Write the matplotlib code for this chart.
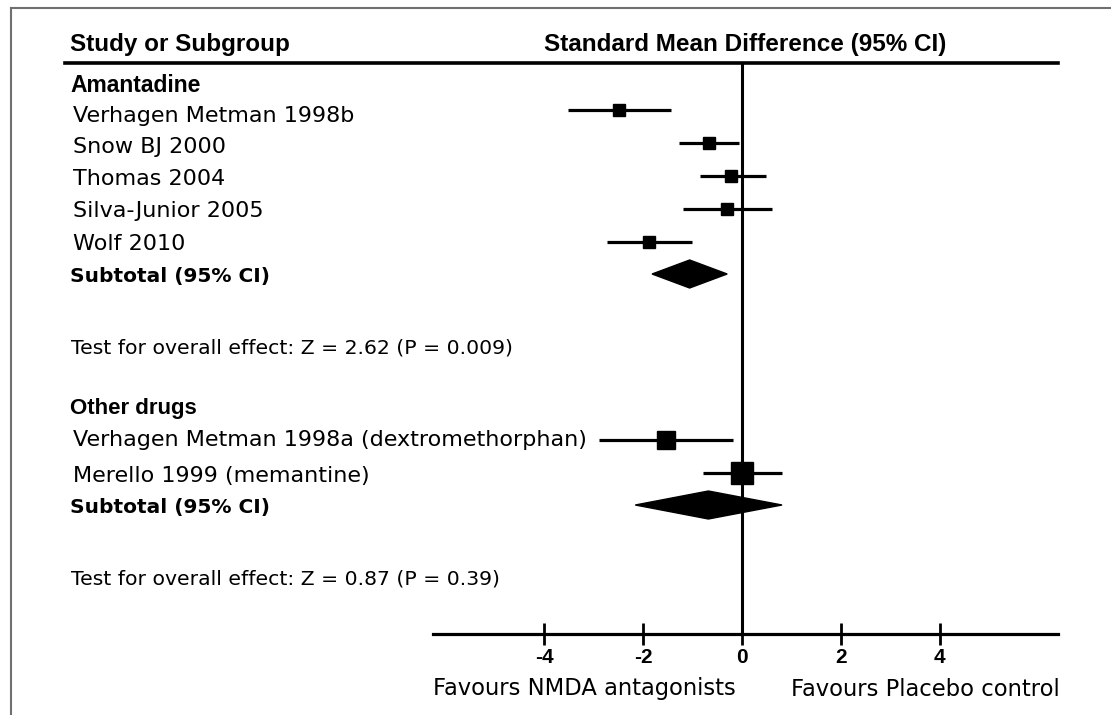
import matplotlib
matplotlib.use("Agg")
import matplotlib.pyplot as plt
from matplotlib.lines import Line2D
from matplotlib.patches import Polygon
from matplotlib.transforms import blended_transform_factory

# study level data (standard mean difference, 95% CI)
amantadine_studies = ["Verhagen Metman 1998b", "Snow BJ 2000", "Thomas 2004",
                      "Silva-Junior 2005", "Wolf 2010"]
amantadine_smd = [-2.48, -0.67, -0.22, -0.30, -1.88]
amantadine_lo = [-3.52, -1.27, -0.86, -1.19, -2.73]
amantadine_hi = [-1.44, -0.07, 0.48, 0.61, -1.02]
amantadine_total = [-1.06, -1.82, -0.30]   # est, lo, hi
amantadine_test = "Test for overall effect: Z = 2.62 (P = 0.009)"

other_studies = ["Verhagen Metman 1998a (dextromethorphan)", "Merello 1999 (memantine)"]
other_smd = [-1.54, 0.0]
other_lo = [-2.90, -0.78]
other_hi = [-0.19, 0.81]
other_total = [-0.68, -2.16, 0.81]
other_test = "Test for overall effect: Z = 0.87 (P = 0.39)"

xticks = [-4, -2, 0, 2, 4]

W, H = 1111, 715
fig = plt.figure(figsize=(W / 100, H / 100), dpi=100)
fig.patch.set_facecolor("white")

# forest area: axis line at y=634 px, header line at y=63 px
x0, x1 = 433, 1058
ax = fig.add_axes([x0 / W, (H - 634) / H, (x1 - x0) / W, (634 - 63) / H])
ax.set_xlim(-6.255, 6.397)
ax.set_ylim(634, 63)
ax.patch.set_alpha(0)
for s in ["top", "left", "right"]:
    ax.spines[s].set_visible(False)
ax.spines["bottom"].set_linewidth(2.3)
ax.set_yticks([])
ax.set_xticks(xticks)
ax.set_xticklabels([str(t) for t in xticks], fontsize=15, fontweight="bold",
                   family="Liberation Sans")
ax.tick_params(axis="x", direction="inout", length=16, width=2, pad=2)

ax.plot([0, 0], [63, 634], color="black", lw=2.2, solid_capstyle="butt")

lab = blended_transform_factory(fig.transFigure, ax.transData)


def fx(px):
    return px / W


def study(y, ly, name, est, lo, hi, size):
    ax.plot([lo, hi], [y, y], color="black", lw=2.3, solid_capstyle="butt")
    ax.plot([est], [y], marker="s", color="black", markersize=size)
    ax.text(fx(73), ly, name, transform=lab, fontsize=16, va="center",
            family="DejaVu Sans", clip_on=False)


def diamond(y, est, lo, hi, name):
    h = 14
    ax.add_patch(Polygon([(lo, y), (est, y - h), (hi, y), (est, y + h)],
                         closed=True, color="black"))
    ax.text(fx(70), y + 2, name, transform=lab, fontsize=14.5, fontweight="bold",
            va="center", family="DejaVu Sans", clip_on=False)


# header
fig.text(fx(70), 1 - 44 / H, "Study or Subgroup", fontsize=17.5, fontweight="bold",
         family="Liberation Sans", va="center")
fig.text(fx(745), 1 - 44 / H, "Standard Mean Difference (95% CI)", fontsize=17.5,
         fontweight="bold", family="Liberation Sans", va="center", ha="center")
fig.add_artist(Line2D([fx(65), fx(1058)], [1 - 63 / H] * 2, color="black", lw=2.6))

# group 1
ax.text(fx(70), 85, "Amantadine", transform=lab, fontsize=16.5, fontweight="bold",
        family="Liberation Sans", va="center", clip_on=False)
rows1 = [110, 143, 176, 209, 242]
labels1 = [116, 147, 179, 211, 244]
for y, ly, n, e, l, h in zip(rows1, labels1, amantadine_studies, amantadine_smd,
                             amantadine_lo, amantadine_hi):
    study(y, ly, n, e, l, h, 8)
diamond(274, amantadine_total[0], amantadine_total[1], amantadine_total[2], "Subtotal (95% CI)")
ax.text(fx(71), 348, amantadine_test, transform=lab, fontsize=14.7, va="center",
        family="DejaVu Sans", clip_on=False)

# group 2
ax.text(fx(70), 408, "Other drugs", transform=lab, fontsize=16, fontweight="bold",
        family="Liberation Sans", va="center", clip_on=False)
rows2 = [440, 473]
labels2 = [440, 476]
sizes2 = [13, 16]
for y, ly, n, e, l, h, sz in zip(rows2, labels2, other_studies, other_smd, other_lo,
                                 other_hi, sizes2):
    study(y, ly, n, e, l, h, sz)
diamond(505, other_total[0], other_total[1], other_total[2], "Subtotal (95% CI)")
ax.text(fx(71), 579, other_test, transform=lab, fontsize=14.7, va="center",
        family="DejaVu Sans", clip_on=False)

# favours labels
fig.text(fx(433), 1 - 689 / H, "Favours NMDA antagonists", fontsize=16.3,
         family="DejaVu Sans", va="center", ha="left")
fig.text(fx(1060), 1 - 689 / H, "Favours Placebo control", fontsize=16.3,
         family="DejaVu Sans", va="center", ha="right")

# image frame (top and left edges)
fig.add_artist(Line2D([fx(11), 1], [1 - 8 / H] * 2, color="#707070", lw=1.5))
fig.add_artist(Line2D([fx(11), fx(11)], [0, 1 - 8 / H], color="#707070", lw=1.5))

fig.savefig("out.png", dpi=100, facecolor="white")
